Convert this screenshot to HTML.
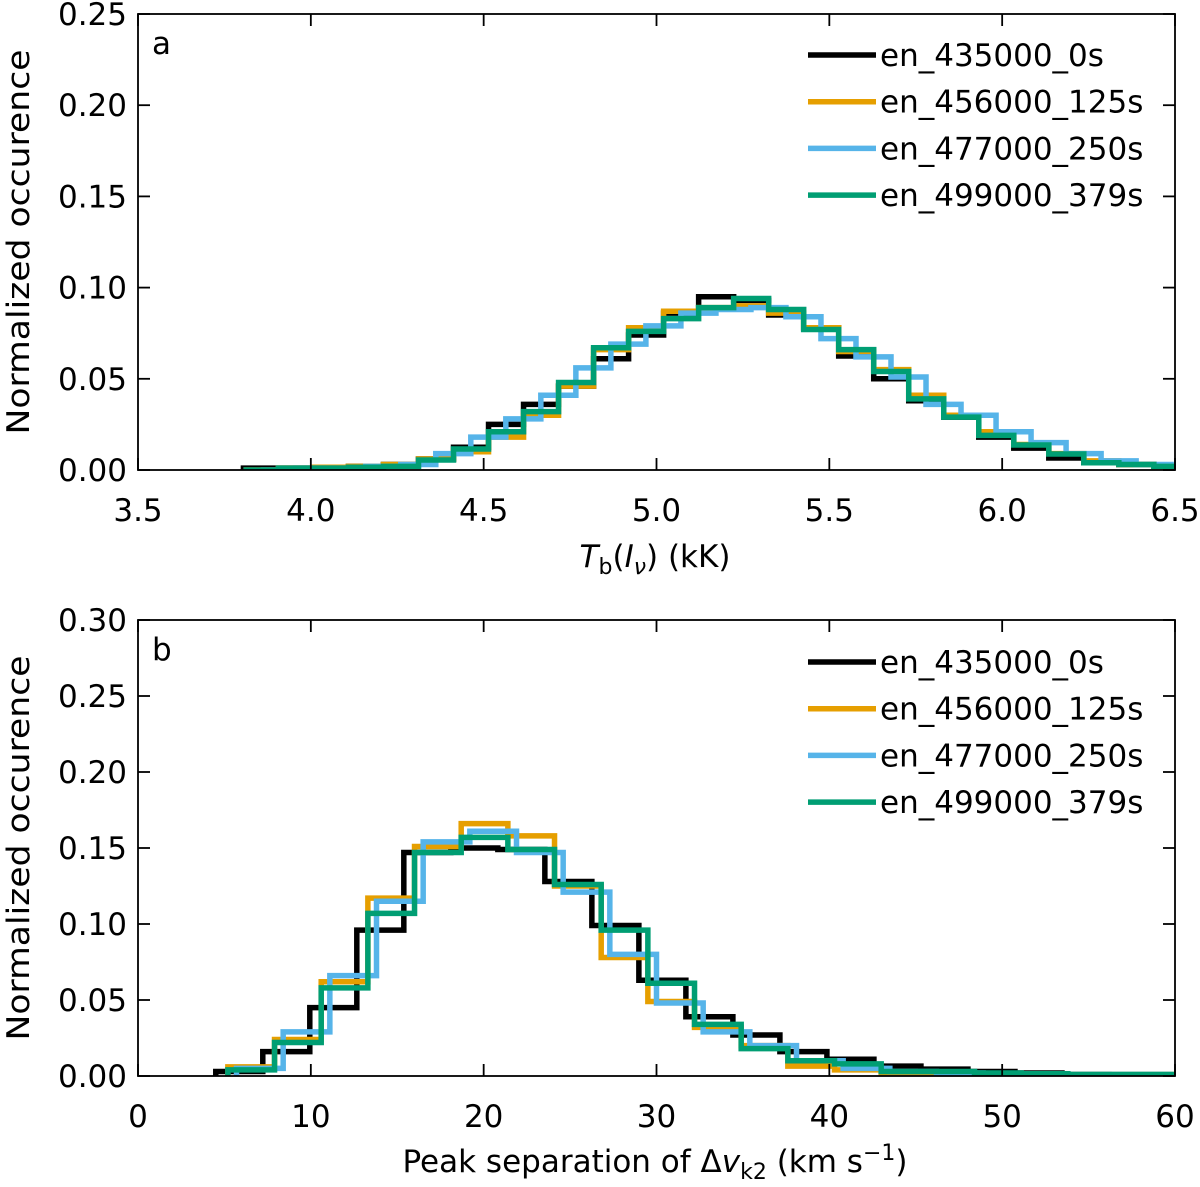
<!DOCTYPE html>
<html><head><meta charset="utf-8"><style>
html,body{margin:0;padding:0;background:#fff;}
svg{display:block;font-family:"DejaVu Sans","Liberation Sans",sans-serif;}
</style></head><body>
<svg id="fig" width="1200" height="1187" viewBox="0 0 1200 1187" xmlns="http://www.w3.org/2000/svg"></svg>
<script>
// ---------- DATA ----------
const seriesNames = ["en_435000_0s","en_456000_125s","en_477000_250s","en_499000_379s"];
const seriesColors = ["#000000","#e69f00","#56b4e9","#009e73"];

// Panel a: bin starts and width (kK)
const aBinStart = [3.805, 3.805, 3.855, 3.805];
const aBinWidth = 0.1013;
const aBlack  = [0.001,0.001,0.0015,0.002,0.003,0.006,0.0125,0.025,0.036,0.046,0.061,0.074,0.086,0.095,0.093,0.085,0.078,0.0625,0.050,0.038,0.029,0.018,0.012,0.0066,0.004,0.003,0.002];
const aOrange = [0,0.001,0.0015,0.002,0.003,0.006,0.010,0.018,0.030,0.046,0.066,0.078,0.087,0.089,0.090,0.086,0.078,0.065,0.055,0.041,0.030,0.021,0.014,0.009,0.005,0.003,0.002];
const aBlue   = [0,0.001,0.001,0.002,0.003,0.009,0.018,0.028,0.041,0.056,0.069,0.079,0.086,0.088,0.089,0.084,0.072,0.062,0.051,0.036,0.030,0.021,0.015,0.009,0.005,0.003,0.002];
const aGreen  = [0,0.001,0.001,0.0015,0.002,0.0055,0.0115,0.021,0.032,0.048,0.067,0.076,0.083,0.089,0.094,0.088,0.077,0.066,0.054,0.039,0.029,0.019,0.0137,0.0088,0.004,0.003,0.002];
const aXTicks = [3.5,4.0,4.5,5.0,5.5,6.0,6.5];
const aYTicks = [0.00,0.05,0.10,0.15,0.20,0.25];

// Panel b
const bBinStart = [4.5, 5.2, 5.7, 5.2];
const bBinWidth = [2.72, 2.7, 2.7, 2.7];
const bBlack  = [0.003,0.016,0.045,0.096,0.147,0.150,0.149,0.128,0.099,0.063,0.039,0.027,0.016,0.011,0.0065,0.0045,0.003,0.002,0.001];
const bOrange = [0.006,0.024,0.062,0.117,0.151,0.166,0.158,0.125,0.078,0.049,0.032,0.020,0.0065,0.004,0.002,0.002,0.0015,0.001,0.001,0.001,0.001];
const bBlue   = [0.005,0.029,0.066,0.115,0.154,0.161,0.147,0.121,0.080,0.048,0.029,0.020,0.010,0.005,0.003,0.002,0.0015,0.001,0.001,0.001];
const bGreen  = [0.004,0.022,0.058,0.107,0.147,0.157,0.149,0.126,0.096,0.061,0.034,0.018,0.010,0.008,0.003,0.003,0.002,0.0015,0.001,0.001,0.001];
const bXTicks = [0,10,20,30,40,50,60];
const bYTicks = [0.00,0.05,0.10,0.15,0.20,0.25,0.30];

// ---------- DRAW ----------
const NS="http://www.w3.org/2000/svg";
const svg=document.getElementById("fig");
function mk(tag,attrs,parent){const e=document.createElementNS(NS,tag);for(const k in attrs)e.setAttribute(k,attrs[k]);(parent||svg).appendChild(e);return e;}
const FS=31;

function panel(cfg){
  const g=mk("g",{});
  
  
  const L=138,R=1175,T=cfg.top,B=cfg.bottom;
  const sx=v=>L+(v-cfg.xmin)/(cfg.xmax-cfg.xmin)*(R-L);
  const sy=v=>B-(v-cfg.ymin)/(cfg.ymax-cfg.ymin)*(B-T);
  const cid="clip-"+cfg.label;
  const cp=mk("clipPath",{id:cid},g);mk("rect",{x:L,y:T,width:R-L,height:B-T},cp);
  const sg=mk("g",{"clip-path":"url(#"+cid+")"},g);
  cfg.series.forEach((vals,i)=>{
    const w=Array.isArray(cfg.width)?cfg.width[i]:cfg.width;
    const s=cfg.starts[i];
    let d="M"+sx(s)+","+sy(0);
    vals.forEach((v,k)=>{d+=" L"+sx(s+k*w)+","+sy(v)+" L"+sx(s+(k+1)*w)+","+sy(v);});
    d+=" L"+sx(s+vals.length*w)+","+sy(0);
    const p=mk("path",{d:d,fill:"none",stroke:seriesColors[i],"stroke-width":5.5,"stroke-linejoin":"miter"},sg);
    
    
  });
  const fr=mk("rect",{x:L,y:T,width:R-L,height:B-T,fill:"none",stroke:"#000","stroke-width":1.8},g);
  
  
  cfg.xticks.forEach((t,i)=>{
    const x=sx(t);
    mk("line",{x1:x,y1:B,x2:x,y2:B-12,stroke:"#000","stroke-width":1.8},g);
    mk("line",{x1:x,y1:T,x2:x,y2:T+12,stroke:"#000","stroke-width":1.8},g);
    const tx=mk("text",{x:x,y:B+51,"text-anchor":"middle","font-size":FS},g);
    tx.textContent=cfg.xfmt(t);
    
    
  });
  cfg.yticks.forEach(t=>{
    const y=sy(t);
    mk("line",{x1:L,y1:y,x2:L+12,y2:y,stroke:"#000","stroke-width":1.8},g);
    mk("line",{x1:R,y1:y,x2:R-12,y2:y,stroke:"#000","stroke-width":1.8},g);
    const ty=mk("text",{x:127,y:y+11,"text-anchor":"end","font-size":FS},g);
    ty.textContent=t.toFixed(2);
    
    
  });
  const pl=mk("text",{x:152,y:T+40,"font-size":FS},g);
  pl.textContent=cfg.label;
  
  
  seriesNames.forEach((n,i)=>{
    const y=T+cfg.legTop+i*46.7;
    const lg=mk("g",{},g);
    
    
    mk("line",{x1:808,y1:y,x2:876,y2:y,stroke:seriesColors[i],"stroke-width":5.5},lg);
    const lt=mk("text",{x:880,y:y+11,"font-size":FS},lg);
    lt.textContent=n;
  });
  const yt=mk("text",{x:0,y:0,"font-size":FS,"text-anchor":"middle",textLength:385,lengthAdjust:"spacingAndGlyphs",transform:"translate(29,"+((T+B)/2)+") rotate(-90)"},g);
  yt.textContent="Normalized occurence";
  
  
}

panel({name:"panel-a",label:"a",top:14,bottom:470,xmin:3.5,xmax:6.5,ymin:0,ymax:0.25,
  series:[aBlack,aOrange,aBlue,aGreen],starts:aBinStart,width:aBinWidth,
  xticks:aXTicks,yticks:aYTicks,xfmt:t=>t.toFixed(1),legTop:41});
panel({name:"panel-b",label:"b",top:620,bottom:1076,xmin:0,xmax:60,ymin:0,ymax:0.30,
  series:[bBlack,bOrange,bBlue,bGreen],starts:bBinStart,width:bBinWidth,
  xticks:bXTicks,yticks:bYTicks,xfmt:t=>String(t),legTop:42});

const xa=mk("text",{x:655,y:567,"font-size":FS,"text-anchor":"middle"});
xa.innerHTML='<tspan font-style="italic">T</tspan><tspan font-size="22" dy="7">b</tspan><tspan dy="-7">(</tspan><tspan font-style="italic">I</tspan><tspan font-size="22" font-style="italic" dy="7">ν</tspan><tspan dy="-7">) (kK)</tspan>';


const xb=mk("text",{x:655,y:1172,"font-size":FS,"text-anchor":"middle"});
xb.innerHTML='Peak separation of Δ<tspan font-style="italic">v</tspan><tspan font-size="22" dy="7">k2</tspan><tspan dy="-7"> (km s</tspan><tspan font-size="22" dy="-12">−1</tspan><tspan dy="12">)</tspan>';


</script>
</body></html>
